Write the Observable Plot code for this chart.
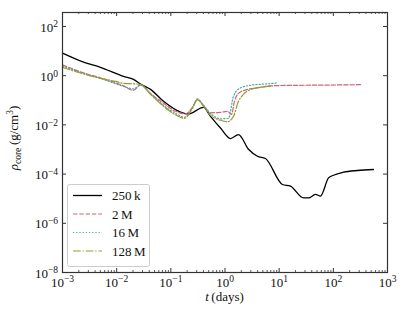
<!DOCTYPE html>
<html><head><meta charset="utf-8">
<script src="https://cdn.jsdelivr.net/npm/d3@7"></script>
<script src="https://cdn.jsdelivr.net/npm/@observablehq/plot@0.6"></script>
<style>html,body{margin:0;padding:0;background:#fff}svg{display:block}</style>
</head><body><div id="chart"></div>
<script>
// ---- data ----
const series = ["250\u2009k", "2\u2009M", "16\u2009M", "128\u2009M"];
const seriesColors = ["#000000", "#CC6677", "#44AA99", "#999933"];
const seriesDashes = [null, "4.4,1.9", "1.2,2", "7.7,1.9,1.2,1.9"];
const seriesWidths = [1.3, 1.2, 1.2, 1.2];

const t250k = [0.001, 0.00244, 0.00502, 0.01337, 0.02046, 0.02754, 0.04217, 0.0733, 0.1507, 0.2118, 0.401, 0.540, 0.826, 1.262, 1.774, 2.716, 3.98, 5.58, 11.5, 16.2, 28.1, 34.8, 46.9, 57.9, 81.5, 100.7, 154, 279, 551];
const rho250k = [8.26, 3.56, 2.17, 0.938, 0.708, 0.456, 0.278, 0.0906, 0.0333, 0.0277, 0.0518, 0.0223, 0.00748, 0.00278, 0.00404, 0.00102, 0.000532, 0.000430, 3.78e-5, 3.23e-5, 1.08e-5, 1.08e-5, 1.49e-5, 1.27e-5, 7.0e-5, 9.0e-5, 1.19e-4, 1.40e-4, 1.54e-4];

const t2M = [0.001, 0.00244, 0.00502, 0.01337, 0.02046, 0.02754, 0.04217, 0.0733, 0.1219, 0.1866, 0.251, 0.310, 0.401, 0.540, 0.826, 1.112, 1.318, 1.496, 1.774, 2.60, 3.98, 6.92, 16.2, 57.9, 317];
const rho2M = [2.74, 1.30, 0.815, 0.385, 0.254, 0.424, 0.191, 0.0752, 0.0356, 0.0282, 0.0518, 0.104, 0.0624, 0.0310, 0.0324, 0.0356, 0.0269, 0.0906, 0.191, 0.278, 0.320, 0.385, 0.404, 0.412, 0.432];

const t16M = [0.001, 0.00244, 0.00502, 0.01337, 0.02046, 0.02754, 0.04217, 0.0733, 0.1219, 0.1786, 0.251, 0.310, 0.401, 0.540, 0.826, 1.161, 1.435, 1.932, 3.36, 6.08, 9.31];
const rho16M = [2.50, 1.24, 0.776, 0.368, 0.292, 0.404, 0.183, 0.0624, 0.0296, 0.0203, 0.0518, 0.115, 0.0624, 0.0296, 0.0177, 0.0185, 0.145, 0.320, 0.424, 0.465, 0.511];

const t128M = [0.001, 0.00244, 0.00502, 0.00951, 0.01337, 0.02046, 0.02754, 0.04217, 0.0733, 0.1219, 0.1786, 0.251, 0.310, 0.401, 0.540, 0.826, 1.112, 1.435, 1.774, 2.19, 3.36, 6.08, 6.92];
const rho128M = [2.17, 1.18, 0.776, 0.587, 0.488, 0.465, 0.444, 0.174, 0.0569, 0.0257, 0.0185, 0.0472, 0.109, 0.0569, 0.0245, 0.0154, 0.0134, 0.0223, 0.0906, 0.174, 0.297, 0.368, 0.385];

const xMajorTicks = [1e-3, 1e-2, 1e-1, 1, 10, 100, 1000];
const xTickExponents = ["−3", "−2", "−1", "0", "1", "2", "3"];
const yMajorTicks = [1e-8, 1e-6, 1e-4, 1e-2, 1, 100];
const yTickExponents = ["−8", "−6", "−4", "−2", "0", "2"];
const minorMultipliers = [2, 3, 4, 5, 6, 7, 8, 9];

// ---- build ----
const tables = [[t250k, rho250k], [t2M, rho2M], [t16M, rho16M], [t128M, rho128M]]
  .map(([ts, rs], i) => ts.map((t, j) => ({series: series[i], t, rho: rs[j]})));
const xMinorTicks = xMajorTicks.slice(0, -1).flatMap(d => minorMultipliers.map(m => d * m));

const W = 407, H = 318, mL = 62, mR = 20, mT = 12, mB = 46;
const pw = W - mL - mR, ph = H - mT - mB;
const font = "'Liberation Serif', 'DejaVu Serif', serif";
const expFmt = (ticks, exps) => d => "10^" + exps[ticks.indexOf(d)];
const tickColor = "#333";

const marks = [];
tables.forEach((rows, i) => {
  marks.push(Plot.line(rows, {
    x: "t", y: "rho", stroke: seriesColors[i], strokeWidth: seriesWidths[i],
    strokeDasharray: seriesDashes[i] || undefined, curve: "monotone-x"
  }));
});
// inward ticks
marks.push(Plot.tickX(xMajorTicks, {x: d => d, insetTop: ph - 4, stroke: tickColor}));
marks.push(Plot.tickX(xMajorTicks, {x: d => d, insetBottom: ph - 4, stroke: tickColor}));
marks.push(Plot.tickX(xMinorTicks, {x: d => d, insetTop: ph - 2, stroke: tickColor, strokeWidth: 0.8}));
marks.push(Plot.tickX(xMinorTicks, {x: d => d, insetBottom: ph - 2, stroke: tickColor, strokeWidth: 0.8}));
marks.push(Plot.tickY(yMajorTicks, {y: d => d, insetRight: pw - 4, stroke: tickColor}));
marks.push(Plot.tickY(yMajorTicks, {y: d => d, insetLeft: pw - 4, stroke: tickColor}));
marks.push(Plot.axisX({ticks: xMajorTicks, tickSize: 0, tickPadding: 5, tickFormat: expFmt(xMajorTicks, xTickExponents), label: null, fill: "#111"}));
marks.push(Plot.axisY({ticks: yMajorTicks, tickSize: 0, tickPadding: 4.5, dy: 1, tickFormat: expFmt(yMajorTicks, yTickExponents), label: null, fill: "#111"}));
marks.push(Plot.frame({stroke: tickColor, strokeWidth: 1.2}));

const svg = Plot.plot({
  width: W, height: H,
  marginLeft: mL, marginRight: mR, marginTop: mT, marginBottom: mB,
  style: {fontFamily: font, fontSize: "13px", background: "#fff", color: "#111"},
  x: {type: "log", domain: [1e-3, 1e3], axis: null},
  y: {type: "log", domain: [1e-8, 370], axis: null},
  marks
});

const s = d3.select(svg);
// superscript tick labels
s.selectAll("text").each(function () {
  const el = d3.select(this);
  const txt = el.text();
  const m = /^10\^(.+)$/.exec(txt);
  if (!m) return;
  el.text(null);
  el.append("tspan").text("10");
  el.append("tspan").attr("dy", "-0.45em").attr("font-size", "9.5px").text(m[1]);
});

// y label
const yl = s.append("text")
  .attr("transform", `translate(18,${mT + ph / 2 - 4}) rotate(-90)`)
  .attr("text-anchor", "middle").attr("fill", "#111")
  .attr("font-family", font).attr("font-size", "13px");
yl.append("tspan").attr("font-style", "italic").text("ρ");
yl.append("tspan").attr("font-size", "9.5px").attr("dy", "3").text("core");
yl.append("tspan").attr("dy", "-3").text("\u2009(g/cm");
yl.append("tspan").attr("font-size", "9.5px").attr("dy", "-5").text("3");
yl.append("tspan").attr("dy", "5").text(")");

// x label
const xl = s.append("text")
  .attr("x", mL + pw / 2).attr("y", 301)
  .attr("text-anchor", "middle").attr("fill", "#111")
  .attr("font-family", font).attr("font-size", "13px");
xl.append("tspan").attr("font-style", "italic").text("t");
xl.append("tspan").text("\u2009(days)");

// legend
const lg = s.append("g").attr("font-family", font).attr("font-size", "13px").attr("text-anchor", "start");
lg.append("rect").attr("x", 67.5).attr("y", 184.5).attr("width", 82).attr("height", 82)
  .attr("rx", 2).attr("fill", "#fff").attr("fill-opacity", 0.85).attr("stroke", "#cccccc").attr("stroke-width", 1);
series.forEach((name, i) => {
  const yy = 195.5 + i * 18.5;
  lg.append("line").attr("x1", 73).attr("x2", 102).attr("y1", yy).attr("y2", yy)
    .attr("stroke", seriesColors[i]).attr("stroke-width", seriesWidths[i])
    .attr("stroke-dasharray", seriesDashes[i] || null);
  lg.append("text").attr("x", 112).attr("y", yy + 4.5).attr("fill", "#111")
    .attr("text-anchor", "start").text(name);
});

document.getElementById("chart").appendChild(svg);
</script>
</body></html>
